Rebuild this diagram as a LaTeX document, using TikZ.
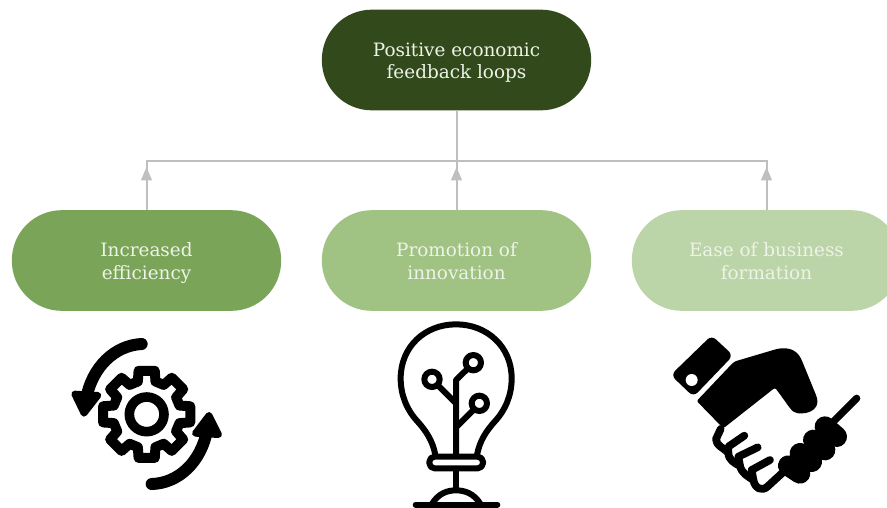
\documentclass[tikz,border=0pt]{standalone}
\usepackage{fontspec}
\setmainfont{DejaVu Serif}
\usetikzlibrary{arrows.meta}
\definecolor{pillA}{HTML}{31491B}
\definecolor{pillB}{HTML}{7AA457}
\definecolor{pillC}{HTML}{A0C282}
\definecolor{pillD}{HTML}{BBD4A8}
\definecolor{linkgray}{HTML}{BFBFBF}
\definecolor{pilltext}{HTML}{EEF3E8}
\newcommand\pillline[1]{\smash{\raisebox{-5.6pt}{#1}}}
\tikzset{
  pill/.style={rounded corners=37.5pt,minimum width=202pt,minimum height=75.5pt,inner sep=0pt,
    align=center,text=pilltext,font=\fontsize{13.8}{17.2}\selectfont},
  link/.style={draw=linkgray,line width=1.5pt},
  linktip/.style={link,-{Triangle[length=10pt,width=8pt,fill=linkgray]}},
  ink/.style={draw=black,line cap=round,line join=round},
}
\begin{document}
\begin{tikzpicture}[x=0.75pt,y=-0.75pt]
\useasboundingbox (0,0) rectangle (887,507);
\clip (0,0) rectangle (887,507);
\node[pill,fill=pillA] (top) at (456.5,60) {\pillline{Positive economic}\\\pillline{feedback loops}};
\node[pill,fill=pillB] (eff) at (146.5,260.5) {\pillline{Increased}\\\pillline{efficiency}};
\node[pill,fill=pillC] (inn) at (456.5,260.5) {\pillline{Promotion of}\\\pillline{innovation}};
\node[pill,fill=pillD] (eas) at (766.5,260.5) {\pillline{Ease of business}\\\pillline{formation}};
% connectors
\coordinate (busL) at (eff.north |- 0,160.5);
\coordinate (busM) at (inn.north |- 0,160.5);
\coordinate (busR) at (eas.north |- 0,160.5);
\coordinate (tipL) at (eff.north |- 0,167);
\coordinate (tipM) at (inn.north |- 0,167);
\coordinate (tipR) at (eas.north |- 0,167);
\draw[link] (top.south) -- (inn.north);
\draw[link,line cap=rect] (busL) -- (busR);
\draw[link] (eff.north) -- (busL);
\draw[link] (eas.north) -- (busR);
\draw[linktip] (eff.north) -- (tipL);
\draw[linktip] (inn.north) -- (tipM);
\draw[linktip] (eas.north) -- (tipR);
% gear icon
\begin{scope}[shift={(50,320)},scale=1/3]
  \draw[ink,line width=7.5pt] (290,283) +(-10.5:133)
    \foreach \t in {0,45,...,315} {
      -- +(\t-10.5:133) -- +(\t+10.5:133) -- +(\t+15:102) -- +(\t+30:102) }
    -- cycle;
  \draw[ink,line width=7.2pt] (290,283) circle[radius=52];
  \draw[ink,line width=9pt] (275,72) .. controls (195,76) and (125,140) .. (108,240);
  \fill[ink,line width=5pt,fill=black] (74,222) -- (144,226) -- (102,280) -- cycle;
  \draw[ink,line width=9pt] (305,492) .. controls (385,490) and (455,426) .. (472,326);
  \fill[ink,line width=5pt,fill=black] (436,340) -- (506,344) -- (477,286) -- cycle;
\end{scope}
% bulb icon
\begin{scope}[shift={(360,315)},scale=1/3]
  \draw[ink,line width=4.5pt]
    (226,420) .. controls (218,375) and (195,345) .. (175,322)
    .. controls (140,285) and (122,240) .. (122,190)
    .. controls (122,95) and (195,28) .. (288,28)
    .. controls (381,28) and (455,95) .. (455,190)
    .. controls (455,240) and (437,285) .. (402,322)
    .. controls (382,345) and (359,375) .. (351,420);
  \draw[ink,line width=4.5pt,rounded corners=3.9pt] (208,425) rectangle (369,460);
  \draw[ink,line width=4.5pt] (288,420) -- (288,195) -- (322,162);
  \draw[ink,line width=4.5pt] (340,143) circle[radius=23];
  \draw[ink,line width=4.5pt] (236,213) -- (288,265);
  \draw[ink,line width=4.5pt] (216,193) circle[radius=23];
  \draw[ink,line width=4.5pt] (342,283) -- (288,337);
  \draw[ink,line width=4.5pt] (358,265) circle[radius=23];
  \draw[ink,line width=4.5pt] (288,465) -- (288,525);
  \draw[ink,line width=4.5pt] (215,568) .. controls (235,535) and (262,526) .. (288,526)
    .. controls (314,526) and (342,535) .. (362,568);
  \draw[ink,line width=4.5pt] (167,569) -- (412,569);
\end{scope}
% handshake icon
\begin{scope}[shift={(660,325)},scale=1/3]
  \fill[ink,line width=9pt,fill=black] (155,56) -- (194,92) -- (100,190) -- (58,150) -- cycle;
  \fill[white] (95,165) circle[radius=18];
  \fill[black,rounded corners=1.5pt]
    (110,228) -- (222,110) -- (350,72) .. controls (385,66) and (410,75) .. (425,105)
    -- (470,215) .. controls (478,250) and (450,265) .. (420,265)
    .. controls (395,265) and (385,240) .. (345,188) -- (190,310) -- cycle;
  \draw[ink,line width=5.8pt]
    (182,312) -- (168,342) .. controls (168,362) and (190,368) .. (205,383)
    .. controls (205,405) and (225,415) .. (240,423)
    .. controls (245,445) and (265,455) .. (280,465)
    .. controls (285,490) and (305,500) .. (322,485) -- (380,432);
  \draw[ink,line width=5.8pt] (205,383) -- (205,365) -- (253,332);
  \draw[ink,line width=5.8pt] (240,423) -- (235,395) -- (293,367);
  \draw[ink,line width=5.8pt] (280,465) -- (275,435) -- (330,405);
  \draw[ink,line width=15.5pt] (495,305) -- (530,335);
  \draw[ink,line width=15.5pt] (460,345) -- (495,375);
  \draw[ink,line width=15.5pt] (420,385) -- (455,410);
  \draw[ink,line width=15.5pt] (385,422) -- (420,445);
  \draw[ink,line width=5.5pt] (515,295) -- (590,220);
\end{scope}
\end{tikzpicture}
\end{document}
